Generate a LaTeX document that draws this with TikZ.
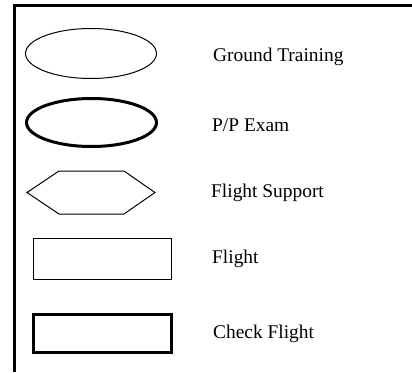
\documentclass[tikz,border=0pt]{standalone}
\usepackage{fontspec}
\setmainfont{Liberation Serif}
\usetikzlibrary{shapes.geometric}
\begin{document}
\begin{tikzpicture}[x=1pt,y=-1pt,
  thinline/.style={draw=black,line width=1pt},
  thickline/.style={draw=black,line width=3pt},
  symbolbox/.style={inner sep=0pt,outer sep=0pt},
  legendtext/.style={anchor=base west,inner sep=0pt,font=\fontsize{19.4}{23}\selectfont}]
\useasboundingbox (0,0) rectangle (412,372);
% frame lines along the top and the left side
\draw[line width=3pt] (14,372) -- (14,5.5) -- (412,5.5);
% legend symbols
\node[symbolbox,ellipse,thinline,minimum width=131pt,minimum height=50pt] (ground) at (91,53.5) {};
\node[symbolbox,ellipse,thickline,minimum width=130pt,minimum height=48pt] (exam) at (91.5,122.5) {};
\node[symbolbox,minimum width=128pt,minimum height=43pt] (support) at (91,192.5) {};
\draw[line width=1pt,line join=miter] (support.west) -- ([xshift=32pt]support.north west)
  -- ([xshift=-31pt]support.north east) -- (support.east)
  -- ([xshift=-31pt]support.south east) -- ([xshift=32pt]support.south west) -- cycle;
\node[symbolbox,rectangle,thinline,minimum width=138pt,minimum height=41pt] (flight) at (102.5,259) {};
\node[symbolbox,rectangle,thickline,minimum width=138pt,minimum height=38pt] (check) at (102.5,333.5) {};
% legend labels
\node[legendtext] (groundlbl) at (213,61) {Ground Training};
\node[legendtext] (examlbl) at (212,131) {P/P Exam};
\node[legendtext] (supportlbl) at (211,197) {Flight Support};
\node[legendtext] (flightlbl) at (212,263) {Flight};
\node[legendtext] (checklbl) at (213,338) {Check Flight};
\end{tikzpicture}
\end{document}
